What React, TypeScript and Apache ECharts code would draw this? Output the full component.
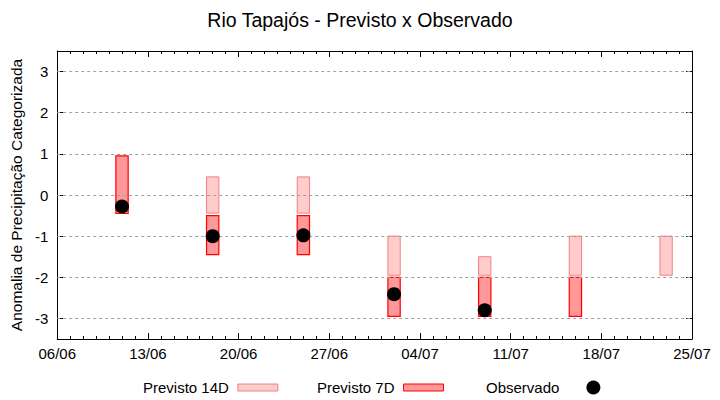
import React, { useEffect, useRef } from "react";
import * as echarts from "echarts";

const START_DATE = "06/06";
const xTickLabels = ["06/06", "13/06", "20/06", "27/06", "04/07", "11/07", "18/07", "25/07"];
const yTickValues = [-3, -2, -1, 0, 1, 2, 3];

const dates = ["11/06", "18/06", "25/06", "02/07", "09/07", "16/07", "23/07"];
// [low, high] of the 14-day forecast box (null = none)
const prev14Low: (number | null)[] = [null, -0.44, -0.44, -1.95, -1.95, -1.95, -1.95];
const prev14High: (number | null)[] = [null, 0.44, 0.44, -1.0, -1.5, -1.0, -1.0];
// [low, high] of the 7-day forecast box
const prev7Low: (number | null)[] = [-0.45, -1.45, -1.45, -2.95, -2.95, -2.95, null];
const prev7High: (number | null)[] = [0.95, -0.5, -0.5, -2.0, -2.0, -2.0, null];
// observed values
const observed: (number | null)[] = [-0.28, -1.0, -0.98, -2.41, -2.8, null, null];

const FONT = "'Liberation Sans', Arial, sans-serif";

function dayOffset(ddmm: string): number {
  const [d, m] = ddmm.split("/").map(Number);
  const [d0, m0] = START_DATE.split("/").map(Number);
  return (Date.UTC(2023, m - 1, d) - Date.UTC(2023, m0 - 1, d0)) / 86400000;
}

function boxData(lows: (number | null)[], highs: (number | null)[]) {
  const out: number[][] = [];
  dates.forEach((d, i) => {
    const lo = lows[i];
    const hi = highs[i];
    if (lo !== null && hi !== null) out.push([dayOffset(d), lo, hi]);
  });
  return out;
}

function makeRender(fill: string, stroke: string, lw: number) {
  return (params: any, api: any) => {
    const x = api.value(0);
    const lo = api.value(1);
    const hi = api.value(2);
    const p1 = api.coord([x, hi]);
    const p2 = api.coord([x, lo]);
    const w = api.size([0.95, 0])[0];
    return {
      type: "rect",
      shape: { x: p1[0] - w / 2, y: p1[1], width: w, height: p2[1] - p1[1] },
      style: { fill, stroke, lineWidth: lw },
    };
  };
}

const C14_FILL = "#ffcccc";
const C14_STROKE = "#f08080";
const C7_FILL = "#ff9999";
const C7_STROKE = "#ff0000";

export default function App() {
  const ref = useRef<HTMLDivElement>(null);
  useEffect(() => {
    if (!ref.current) return;
    const chart = echarts.init(ref.current, null, { renderer: "svg" });
    const obsData: number[][] = [];
    dates.forEach((d, i) => {
      const v = observed[i];
      if (v !== null) obsData.push([dayOffset(d), v]);
    });
    const xMax = dayOffset(xTickLabels[xTickLabels.length - 1]);
    const common = {
      type: "value",
      min: 0,
      max: xMax,
      interval: 7,
      axisLine: { show: true, onZero: false, lineStyle: { color: "#000", width: 1 } },
      axisTick: { show: true, inside: true, length: 6, lineStyle: { color: "#000" } },
      minorTick: { show: true, splitNumber: 7, length: 3, lineStyle: { color: "#000" } },
      splitLine: { show: false },
    };
    const legendBase = {
      orient: "horizontal",
      top: 380,
      padding: 0,
      align: "right",
      itemHeight: 7,
      itemWidth: 40,
      selectedMode: false,
      textStyle: { fontFamily: FONT, fontSize: 15, color: "#000", padding: [0, 4, 0, 0] },
    };
    chart.setOption({
      animation: false,
      backgroundColor: "#fff",
      title: {
        text: "Rio Tapajós - Previsto x Observado",
        left: "center",
        top: 10,
        padding: 0,
        textStyle: { fontFamily: FONT, fontSize: 19.5, fontWeight: "normal", color: "#000" },
      },
      legend: [
        {
          ...legendBase,
          left: 143,
          data: [{ name: "Previsto 14D", icon: "rect", itemStyle: { color: C14_FILL, borderColor: C14_STROKE, borderWidth: 1 } }],
        },
        {
          ...legendBase,
          left: 317,
          data: [{ name: "Previsto 7D", icon: "rect", itemStyle: { color: C7_FILL, borderColor: C7_STROKE, borderWidth: 1 } }],
        },
        {
          ...legendBase,
          left: 486,
          itemWidth: 14,
          itemHeight: 14,
          textStyle: { ...legendBase.textStyle, padding: [0, 22, 0, 0] },
          data: [{ name: "Observado", icon: "circle", itemStyle: { color: "#000", opacity: 1 } }],
        },
      ],
      grid: { left: 55, right: 28, top: 51, bottom: 61, containLabel: false },
      xAxis: [
        {
          ...common,
          position: "bottom",
          axisLabel: {
            show: true,
            margin: 7,
            fontFamily: FONT,
            fontSize: 15,
            color: "#000",
            formatter: (v: number) => xTickLabels[Math.round(v / 7)] ?? "",
          },
        },
        {
          ...common,
          position: "top",
          axisLabel: { show: false },
        },
      ],
      yAxis: [
        {
          type: "value",
          min: -3.5,
          max: 3.5,
          splitNumber: 7,
          position: "left",
          name: "Anomalia de Precipitação Categorizada",
          nameLocation: "middle",
          nameGap: 25,
          nameTextStyle: { fontFamily: FONT, fontSize: 15.5, color: "#000" },
          axisLine: { show: true, onZero: false, lineStyle: { color: "#000", width: 1 } },
          axisTick: { show: true, inside: true, length: 6, lineStyle: { color: "#000" } },
          axisLabel: {
            margin: 9,
            fontFamily: FONT,
            fontSize: 15,
            color: "#000",
            formatter: (v: number) => (yTickValues.includes(Math.round(v * 1000) / 1000) ? String(v) : ""),
          },
          splitLine: { show: false },
        },
        {
          type: "value",
          min: -3.5,
          max: 3.5,
          splitNumber: 7,
          position: "right",
          axisLine: { show: true, onZero: false, lineStyle: { color: "#000", width: 1 } },
          axisTick: { show: true, inside: true, length: 6, lineStyle: { color: "#000" } },
          axisLabel: { show: false },
          splitLine: { show: false },
        },
      ],
      series: [
        {
          name: "grid",
          type: "line",
          data: [],
          silent: true,
          markLine: {
            silent: true,
            symbol: "none",
            label: { show: false },
            lineStyle: { color: "#a0a0a0", type: [3, 3], width: 1 },
            data: yTickValues.map((v) => ({ yAxis: v })),
          },
        },
        {
          name: "Previsto 14D",
          type: "custom",
          renderItem: makeRender(C14_FILL, C14_STROKE, 1),
          itemStyle: { color: C14_FILL, borderColor: C14_STROKE },
          encode: { x: 0, y: [1, 2] },
          data: boxData(prev14Low, prev14High),
          z: 3,
        },
        {
          name: "Previsto 7D",
          type: "custom",
          renderItem: makeRender(C7_FILL, C7_STROKE, 1.2),
          itemStyle: { color: C7_FILL, borderColor: C7_STROKE },
          encode: { x: 0, y: [1, 2] },
          data: boxData(prev7Low, prev7High),
          z: 4,
        },
        {
          name: "Observado",
          type: "scatter",
          symbol: "circle",
          symbolSize: 14,
          itemStyle: { color: "#000", opacity: 1 },
          data: obsData,
          z: 5,
        },
      ],
    });
    return () => chart.dispose();
  }, []);
  return <div ref={ref} style={{ position: "fixed", left: 0, top: 0, width: 720, height: 400 }} />;
}
